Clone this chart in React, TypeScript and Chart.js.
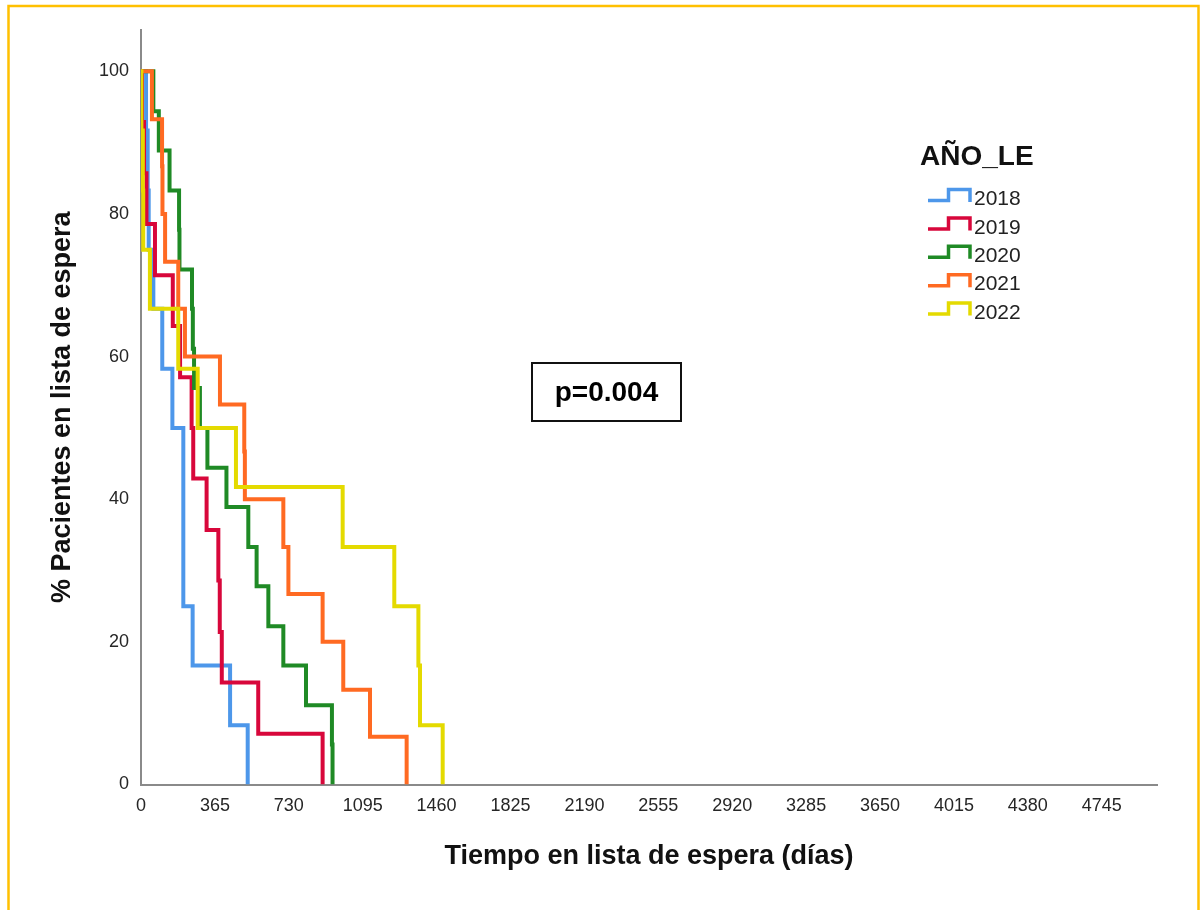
import React, { useEffect, useRef } from 'react';
import { Chart, registerables } from 'chart.js';

Chart.register(...registerables);

// ---------- data ----------
const seriesLabels = ['2018', '2019', '2020', '2021', '2022'];
const seriesColors = ['#4d97ea', '#d8073b', '#1f8a25', '#ff6a22', '#e4da00'];

const days2018 = [0, 25, 33, 38, 61, 105, 155, 209, 255, 440, 527];
const surv2018 = [100, 91.7, 83.3, 75, 66.7, 58.3, 50, 25, 16.7, 8.3, 0];

const days2019 = [0, 5, 15, 27, 69, 157, 193, 250, 258, 324, 382, 389, 399, 579, 897];
const surv2019 = [100, 92.9, 85.7, 78.6, 71.4, 64.3, 57.1, 50, 42.9, 35.7, 28.6, 21.4, 14.3, 7.1, 0];

const days2020 = [0, 61, 88, 141, 188, 190, 252, 256, 262, 291, 328, 422, 530, 571, 629, 703, 815, 943, 946];
const surv2020 = [100, 94.4, 88.9, 83.3, 77.8, 72.2, 66.7, 61.1, 55.6, 50, 44.4, 38.9, 33.3, 27.8, 22.2, 16.7, 11.1, 5.6, 0];

const days2021 = [0, 54, 104, 106, 119, 184, 217, 390, 510, 513, 703, 728, 897, 999, 1131, 1312];
const surv2021 = [100, 93.3, 86.7, 80, 73.3, 66.7, 60, 53.3, 46.7, 40, 33.3, 26.7, 20, 13.3, 6.7, 0];

const days2022 = [0, 2, 9, 11, 44, 184, 280, 469, 996, 1251, 1370, 1378, 1490];
const surv2022 = [100, 91.7, 83.3, 75, 66.7, 58.3, 50, 41.7, 33.3, 25, 16.7, 8.3, 0];

const xTicks = [0, 365, 730, 1095, 1460, 1825, 2190, 2555, 2920, 3285, 3650, 4015, 4380, 4745];
const yTicks = [0, 20, 40, 60, 80, 100];
const xMax = 5018;
const yMax = 105.8;

const xTitle = 'Tiempo en lista de espera (días)';
const yTitle = '% Pacientes en lista de espera';
const legendTitle = 'AÑO_LE';
const pValueText = 'p=0.004';

const allDays = [days2018, days2019, days2020, days2021, days2022];
const allSurv = [surv2018, surv2019, surv2020, surv2021, surv2022];

const FONT = 'Arial, "Liberation Sans", sans-serif';

const overlayPlugin = {
  id: 'overlay',
  afterDraw(chart: any) {
    const ctx = chart.ctx as CanvasRenderingContext2D;
    ctx.save();
    // yellow frame
    ctx.strokeStyle = '#ffc000';
    ctx.lineWidth = 2.5;
    ctx.beginPath();
    ctx.moveTo(8.5, 910);
    ctx.lineTo(8.5, 6);
    ctx.lineTo(1198.5, 6);
    ctx.lineTo(1198.5, 910);
    ctx.stroke();

    // legend
    ctx.fillStyle = '#111';
    ctx.textAlign = 'left';
    ctx.textBaseline = 'middle';
    ctx.font = `bold 28px ${FONT}`;
    ctx.fillText(legendTitle, 920, 157);
    ctx.font = `21px ${FONT}`;
    seriesLabels.forEach((lab, i) => {
      const cy = 198.5 + i * 28.4;
      ctx.strokeStyle = seriesColors[i];
      ctx.lineWidth = 3.5;
      ctx.lineJoin = 'miter';
      ctx.beginPath();
      ctx.moveTo(928, cy + 2);
      ctx.lineTo(948.5, cy + 2);
      ctx.lineTo(948.5, cy - 9);
      ctx.lineTo(970, cy - 9);
      ctx.lineTo(970, cy + 3.5);
      ctx.stroke();
      ctx.fillStyle = '#222';
      ctx.fillText(lab, 974, cy + 1);
    });

    // p-value box
    ctx.strokeStyle = '#111';
    ctx.lineWidth = 2;
    ctx.strokeRect(532, 363, 149, 58);
    ctx.fillStyle = '#000';
    ctx.textAlign = 'center';
    ctx.font = `bold 28px ${FONT}`;
    ctx.fillText(pValueText, 606.5, 393);
    ctx.restore();
  },
};

export default function App() {
  const canvasRef = useRef<HTMLCanvasElement | null>(null);

  useEffect(() => {
    if (!canvasRef.current) return;
    const datasets = seriesLabels.map((lab, i) => ({
      label: lab,
      data: allDays[i].map((d, j) => ({ x: d, y: allSurv[i][j] })),
      borderColor: seriesColors[i],
      backgroundColor: seriesColors[i],
      borderWidth: 4,
      pointRadius: 0,
      stepped: 'before' as const,
      fill: false,
      order: seriesLabels.length - i,
    }));

    const chart = new Chart(canvasRef.current, {
      type: 'line',
      data: { datasets },
      options: {
        animation: false,
        responsive: false,
        devicePixelRatio: 1,
        layout: { padding: { left: 0, right: 46, top: 30, bottom: 0 } },
        plugins: {
          legend: { display: false },
          tooltip: { enabled: false },
        },
        scales: {
          x: {
            type: 'linear',
            min: 0,
            max: xMax,
            afterBuildTicks: (scale: any) => {
              scale.ticks = xTicks.map((v) => ({ value: v }));
            },
            afterFit: (scale: any) => {
              scale.height = 910 - 784.5;
            },
            grid: { display: false },
            border: { display: true, color: '#8a8a8a', width: 2 },
            ticks: {
              color: '#262626',
              font: { family: FONT, size: 18 },
              padding: 3,
              maxRotation: 0,
              autoSkip: false,
              callback: (v: any) => String(v),
            },
            title: {
              display: true,
              text: xTitle,
              color: '#111',
              font: { family: FONT, size: 27, weight: 'bold' },
              padding: { top: 0, bottom: 37 },
            },
          },
          y: {
            type: 'linear',
            min: 0,
            max: yMax,
            afterBuildTicks: (scale: any) => {
              scale.ticks = yTicks.map((v) => ({ value: v }));
            },
            afterFit: (scale: any) => {
              scale.width = 141;
            },
            grid: { display: false },
            border: { display: true, color: '#8a8a8a', width: 2 },
            ticks: {
              color: '#262626',
              font: { family: FONT, size: 18 },
              padding: 4,
              callback: (v: any) => String(v),
            },
            title: {
              display: true,
              text: yTitle,
              color: '#111',
              font: { family: FONT, size: 27, weight: 'bold' },
              padding: { top: 46, bottom: 0 },
            },
          },
        },
      },
      plugins: [overlayPlugin],
    });
    return () => chart.destroy();
  }, []);

  return (
    <div style={{ position: 'absolute', left: 0, top: 0, width: 1203, height: 910 }}>
      <canvas ref={canvasRef} width={1203} height={910} />
    </div>
  );
}
